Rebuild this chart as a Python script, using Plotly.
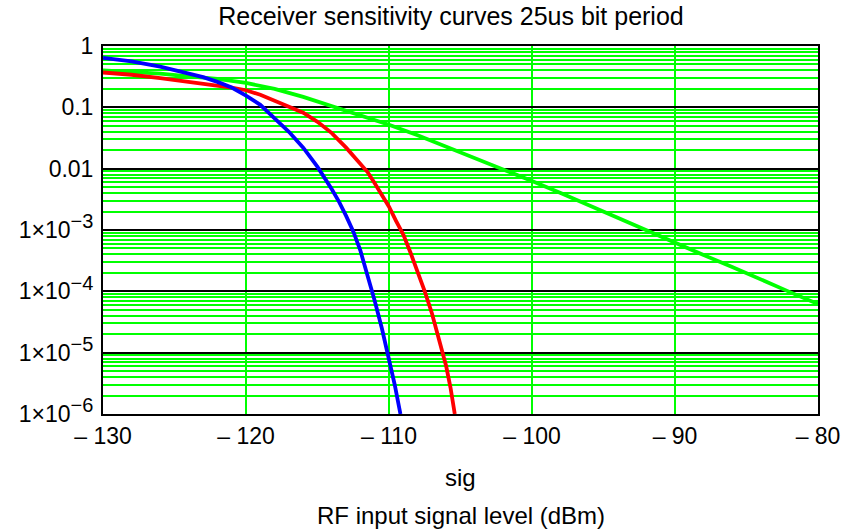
import plotly.graph_objects as go

# ---- data ----
blue_x = [-130, -128, -126, -124, -123, -122, -121, -120, -119, -118, -117, -116, -115, -114, -113.5,
          -113, -112.5, -112, -111.5, -111, -110.5, -110, -109.6, -109.2]
blue_y = [0.64, 0.56, 0.46, 0.36, 0.31, 0.26, 0.21, 0.155, 0.11, 0.066, 0.040, 0.022, 0.0107, 0.0046, 0.0029,
          0.0017, 9.5e-4, 4.6e-4, 1.9e-4, 7.0e-5, 2.5e-5, 8.0e-6, 3.0e-6, 1.0e-6]

red_x = [-130, -128, -126, -124, -122, -121, -120, -119, -118, -117, -116, -115, -114, -113, -112, -111.5, -111,
         -110.5, -110, -109.5, -109, -108.5, -108, -107.5, -107, -106.5, -106, -105.7, -105.4]
red_y = [0.37, 0.34, 0.30, 0.26, 0.23, 0.21, 0.19, 0.16, 0.128, 0.104, 0.082, 0.058, 0.038, 0.022, 0.0122, 0.0088,
         0.0058, 0.0037, 0.0024, 0.0014, 8.4e-4, 4.3e-4, 2.1e-4, 1.0e-4, 4.4e-5, 1.7e-5, 6.0e-6, 2.7e-6, 1.0e-6]

green_x = [-130, -128, -126, -124, -122, -120, -118, -116, -114, -112, -110, -108, -106, -104, -102,
           -100, -98, -96, -94, -92, -90, -88, -86, -84, -82, -80]
green_y = [0.40, 0.38, 0.355, 0.32, 0.29, 0.25, 0.20, 0.148, 0.105, 0.074, 0.052, 0.035, 0.023, 0.0148, 0.0098,
           0.0063, 0.0040, 0.0025, 0.0016, 9.8e-4, 6.2e-4, 3.9e-4, 2.5e-4, 1.55e-4, 9.8e-5, 6.2e-5]

x_tickvals = [-130, -120, -110, -100, -90, -80]
x_ticktext = ["\u2013 130", "\u2013 120", "\u2013 110", "\u2013 100", "\u2013 90", "\u2013 80"]
y_tickvals = [1, 0.1, 0.01, 1e-3, 1e-4, 1e-5, 1e-6]
y_exponents = ["\u22123", "\u22124", "\u22125", "\u22126"]
y_ticktext = ["1", "0.1", "0.01"] + [
    "1\u00d710<sup><span style=\"font-size:20px\">" + e + "</span></sup>" for e in y_exponents
]

title_text = "Receiver sensitivity curves 25us bit period"
xlabel1 = "sig"
xlabel2 = "RF input signal level (dBm)"

FONT = "Liberation Sans, Arial, sans-serif"
W, H = 856, 532
L, R, T, B = 103, 38, 46, 118   # plot area 103..818 x 46..414

fig = go.Figure()
fig.add_trace(go.Scatter(x=green_x, y=green_y, mode="lines", line=dict(color="#00ff00", width=3.8), showlegend=False))
fig.add_trace(go.Scatter(x=red_x, y=red_y, mode="lines", line=dict(color="#ff0000", width=3.8), showlegend=False))
fig.add_trace(go.Scatter(x=blue_x, y=blue_y, mode="lines", line=dict(color="#0000ff", width=3.8), showlegend=False))

plot_h = H - T - B
fig.update_layout(
    width=W, height=H,
    margin=dict(l=L, r=R, t=T, b=B, autoexpand=False),
    paper_bgcolor="white", plot_bgcolor="white",
    font=dict(family=FONT, size=23, color="black"),
    title=dict(text=title_text, x=451 / W, xanchor="center", y=1 - 16 / H, yanchor="middle",
               font=dict(family=FONT, size=25, color="black")),
    xaxis=dict(
        range=[-130, -80], tickmode="array", tickvals=x_tickvals, ticktext=x_ticktext,
        showgrid=True, gridcolor="#00ff00", gridwidth=2,
        showline=True, mirror=True, linecolor="black", linewidth=2,
        ticks="", zeroline=False, tickfont=dict(size=23), automargin=False,
    ),
    yaxis=dict(
        type="log", range=[-6, 0], tickmode="array", tickvals=y_tickvals, ticktext=y_ticktext,
        showgrid=True, gridcolor="black", gridwidth=2,
        minor=dict(dtick="D1", showgrid=True, gridcolor="#00ff00", gridwidth=2, ticks=""),
        showline=True, mirror=True, linecolor="black", linewidth=2,
        ticks="", zeroline=False, tickfont=dict(size=23), ticklabelstandoff=3, automargin=False,
    ),
    annotations=[
        dict(text=xlabel1, xref="paper", yref="paper", x=0.5, y=-(477 - 414) / plot_h,
             xanchor="center", yanchor="middle", showarrow=False, font=dict(size=24)),
        dict(text=xlabel2, xref="paper", yref="paper", x=0.5, y=-(515 - 414) / plot_h,
             xanchor="center", yanchor="middle", showarrow=False, font=dict(size=24)),
    ],
)

fig.write_html(
    "out.html",
    config={"displayModeBar": False, "staticPlot": True},
    post_script="document.documentElement.style.margin='0';document.body.style.margin='0';"
                "document.body.style.overflow='hidden';",
)
